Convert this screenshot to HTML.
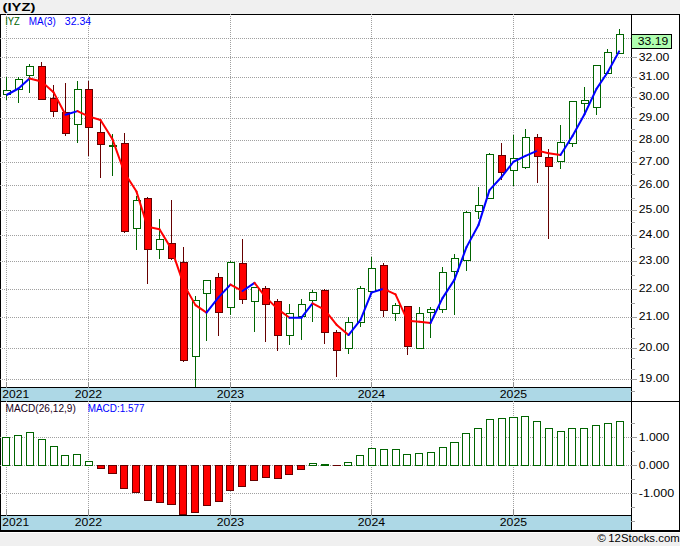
<!DOCTYPE html>
<html><head><meta charset="utf-8"><title>IYZ</title>
<style>html,body{margin:0;padding:0;background:#f0f0f0;}body{width:680px;height:546px;overflow:hidden;font-family:"Liberation Sans",sans-serif;}</style>
</head><body>
<svg width="680" height="546" viewBox="0 0 680 546" style="display:block" font-family="Liberation Sans, sans-serif">
<rect x="0" y="0" width="680" height="546" fill="#f0f0f0" />
<g shape-rendering="crispEdges" stroke-width="1">
<rect x="0" y="14" width="680" height="518" fill="#000" />
<rect x="1" y="15" width="678" height="515" fill="#fff" />
<rect x="0" y="532" width="680" height="1" fill="#fff" />
<line x1="0" y1="38.5" x2="631" y2="38.5" stroke="#a0a0a0" stroke-dasharray="1 1"/>
<line x1="0" y1="57.5" x2="631" y2="57.5" stroke="#a0a0a0" stroke-dasharray="1 1"/>
<line x1="0" y1="77.5" x2="631" y2="77.5" stroke="#a0a0a0" stroke-dasharray="1 1"/>
<line x1="0" y1="97.5" x2="631" y2="97.5" stroke="#a0a0a0" stroke-dasharray="1 1"/>
<line x1="0" y1="118.5" x2="631" y2="118.5" stroke="#a0a0a0" stroke-dasharray="1 1"/>
<line x1="0" y1="140.5" x2="631" y2="140.5" stroke="#a0a0a0" stroke-dasharray="1 1"/>
<line x1="0" y1="162.5" x2="631" y2="162.5" stroke="#a0a0a0" stroke-dasharray="1 1"/>
<line x1="0" y1="185.5" x2="631" y2="185.5" stroke="#a0a0a0" stroke-dasharray="1 1"/>
<line x1="0" y1="210.5" x2="631" y2="210.5" stroke="#a0a0a0" stroke-dasharray="1 1"/>
<line x1="0" y1="235.5" x2="631" y2="235.5" stroke="#a0a0a0" stroke-dasharray="1 1"/>
<line x1="0" y1="261.5" x2="631" y2="261.5" stroke="#a0a0a0" stroke-dasharray="1 1"/>
<line x1="0" y1="289.5" x2="631" y2="289.5" stroke="#a0a0a0" stroke-dasharray="1 1"/>
<line x1="0" y1="317.5" x2="631" y2="317.5" stroke="#a0a0a0" stroke-dasharray="1 1"/>
<line x1="0" y1="348.5" x2="631" y2="348.5" stroke="#a0a0a0" stroke-dasharray="1 1"/>
<line x1="0" y1="379.5" x2="631" y2="379.5" stroke="#a0a0a0" stroke-dasharray="1 1"/>
<line x1="0" y1="437.5" x2="631" y2="437.5" stroke="#a0a0a0" stroke-dasharray="1 1"/>
<line x1="0" y1="465.5" x2="631" y2="465.5" stroke="#a0a0a0" stroke-dasharray="1 1"/>
<line x1="0" y1="493.5" x2="631" y2="493.5" stroke="#a0a0a0" stroke-dasharray="1 1"/>
<line x1="6.5" y1="14" x2="6.5" y2="387" stroke="#a0a0a0" stroke-dasharray="1 1"/>
<line x1="6.5" y1="403" x2="6.5" y2="515" stroke="#a0a0a0" stroke-dasharray="1 1"/>
<line x1="88.5" y1="14" x2="88.5" y2="387" stroke="#a0a0a0" stroke-dasharray="1 1"/>
<line x1="88.5" y1="403" x2="88.5" y2="515" stroke="#a0a0a0" stroke-dasharray="1 1"/>
<line x1="230.5" y1="14" x2="230.5" y2="387" stroke="#a0a0a0" stroke-dasharray="1 1"/>
<line x1="230.5" y1="403" x2="230.5" y2="515" stroke="#a0a0a0" stroke-dasharray="1 1"/>
<line x1="371.5" y1="14" x2="371.5" y2="387" stroke="#a0a0a0" stroke-dasharray="1 1"/>
<line x1="371.5" y1="403" x2="371.5" y2="515" stroke="#a0a0a0" stroke-dasharray="1 1"/>
<line x1="513.5" y1="14" x2="513.5" y2="387" stroke="#a0a0a0" stroke-dasharray="1 1"/>
<line x1="513.5" y1="403" x2="513.5" y2="515" stroke="#a0a0a0" stroke-dasharray="1 1"/>
<rect x="1" y="387" width="631" height="15" fill="#000" />
<rect x="1" y="388" width="630" height="13" fill="#add8e6" />
<rect x="1" y="515" width="631" height="15" fill="#000" />
<rect x="1" y="516" width="630" height="14" fill="#add8e6" />
<line x1="0" y1="401.5" x2="680" y2="401.5" stroke="#000"/>
<line x1="6.5" y1="382" x2="6.5" y2="388" stroke="#909090"/>
<line x1="6.5" y1="509" x2="6.5" y2="516" stroke="#909090"/>
<rect x="6" y="401" width="1" height="1" fill="#a0a0a0" />
<line x1="88.5" y1="382" x2="88.5" y2="388" stroke="#909090"/>
<line x1="88.5" y1="509" x2="88.5" y2="516" stroke="#909090"/>
<rect x="88" y="401" width="1" height="1" fill="#a0a0a0" />
<line x1="230.5" y1="382" x2="230.5" y2="388" stroke="#909090"/>
<line x1="230.5" y1="509" x2="230.5" y2="516" stroke="#909090"/>
<rect x="230" y="401" width="1" height="1" fill="#a0a0a0" />
<line x1="371.5" y1="382" x2="371.5" y2="388" stroke="#909090"/>
<line x1="371.5" y1="509" x2="371.5" y2="516" stroke="#909090"/>
<rect x="371" y="401" width="1" height="1" fill="#a0a0a0" />
<line x1="513.5" y1="382" x2="513.5" y2="388" stroke="#909090"/>
<line x1="513.5" y1="509" x2="513.5" y2="516" stroke="#909090"/>
<rect x="513" y="401" width="1" height="1" fill="#a0a0a0" />
<line x1="631.5" y1="14" x2="631.5" y2="530" stroke="#000"/>
<line x1="631" y1="57.5" x2="637" y2="57.5" stroke="#a0a0a0"/>
<line x1="631" y1="77.5" x2="637" y2="77.5" stroke="#a0a0a0"/>
<line x1="631" y1="97.5" x2="637" y2="97.5" stroke="#a0a0a0"/>
<line x1="631" y1="118.5" x2="637" y2="118.5" stroke="#a0a0a0"/>
<line x1="631" y1="140.5" x2="637" y2="140.5" stroke="#a0a0a0"/>
<line x1="631" y1="162.5" x2="637" y2="162.5" stroke="#a0a0a0"/>
<line x1="631" y1="185.5" x2="637" y2="185.5" stroke="#a0a0a0"/>
<line x1="631" y1="210.5" x2="637" y2="210.5" stroke="#a0a0a0"/>
<line x1="631" y1="235.5" x2="637" y2="235.5" stroke="#a0a0a0"/>
<line x1="631" y1="261.5" x2="637" y2="261.5" stroke="#a0a0a0"/>
<line x1="631" y1="289.5" x2="637" y2="289.5" stroke="#a0a0a0"/>
<line x1="631" y1="317.5" x2="637" y2="317.5" stroke="#a0a0a0"/>
<line x1="631" y1="348.5" x2="637" y2="348.5" stroke="#a0a0a0"/>
<line x1="631" y1="379.5" x2="637" y2="379.5" stroke="#a0a0a0"/>
<line x1="631" y1="87.5" x2="635" y2="87.5" stroke="#a0a0a0"/>
<line x1="631" y1="107.5" x2="635" y2="107.5" stroke="#a0a0a0"/>
<line x1="631" y1="129.5" x2="635" y2="129.5" stroke="#a0a0a0"/>
<line x1="631" y1="151.5" x2="635" y2="151.5" stroke="#a0a0a0"/>
<line x1="631" y1="174.5" x2="635" y2="174.5" stroke="#a0a0a0"/>
<line x1="631" y1="198.5" x2="635" y2="198.5" stroke="#a0a0a0"/>
<line x1="631" y1="222.5" x2="635" y2="222.5" stroke="#a0a0a0"/>
<line x1="631" y1="248.5" x2="635" y2="248.5" stroke="#a0a0a0"/>
<line x1="631" y1="275.5" x2="635" y2="275.5" stroke="#a0a0a0"/>
<line x1="631" y1="303.5" x2="635" y2="303.5" stroke="#a0a0a0"/>
<line x1="631" y1="328.5" x2="635" y2="328.5" stroke="#a0a0a0"/>
<line x1="631" y1="338.5" x2="635" y2="338.5" stroke="#a0a0a0"/>
<line x1="631" y1="358.5" x2="635" y2="358.5" stroke="#a0a0a0"/>
<line x1="631" y1="369.5" x2="635" y2="369.5" stroke="#a0a0a0"/>
<line x1="631" y1="391.5" x2="635" y2="391.5" stroke="#a0a0a0"/>
<line x1="631" y1="437.5" x2="637" y2="437.5" stroke="#a0a0a0"/>
<line x1="631" y1="465.5" x2="637" y2="465.5" stroke="#a0a0a0"/>
<line x1="631" y1="493.5" x2="637" y2="493.5" stroke="#a0a0a0"/>
<line x1="631" y1="423.5" x2="635" y2="423.5" stroke="#a0a0a0"/>
<line x1="631" y1="451.5" x2="635" y2="451.5" stroke="#a0a0a0"/>
<line x1="631" y1="479.5" x2="635" y2="479.5" stroke="#a0a0a0"/>
<line x1="631" y1="507.5" x2="635" y2="507.5" stroke="#a0a0a0"/>
<line x1="631" y1="521.5" x2="635" y2="521.5" stroke="#a0a0a0"/>
<rect x="631" y="34" width="41" height="15" fill="#000" />
<rect x="632" y="35" width="39" height="13" fill="#b0ffb0" />
<line x1="6.5" y1="77" x2="6.5" y2="100" stroke="#006400"/>
<rect x="3" y="90" width="8" height="5" fill="#006400" />
<rect x="4" y="91" width="6" height="3" fill="#fff" />
<line x1="18.5" y1="77" x2="18.5" y2="103" stroke="#006400"/>
<rect x="15" y="79" width="8" height="11" fill="#006400" />
<rect x="16" y="80" width="6" height="9" fill="#fff" />
<line x1="29.5" y1="64" x2="29.5" y2="93" stroke="#006400"/>
<rect x="26" y="66" width="8" height="10" fill="#006400" />
<rect x="27" y="67" width="6" height="8" fill="#fff" />
<line x1="41.5" y1="62" x2="41.5" y2="100" stroke="#660000"/>
<rect x="38" y="66" width="8" height="34" fill="#660000" />
<rect x="39" y="67" width="6" height="32" fill="#ff0000" />
<line x1="53.5" y1="85" x2="53.5" y2="117" stroke="#660000"/>
<rect x="50" y="98" width="8" height="14" fill="#660000" />
<rect x="51" y="99" width="6" height="12" fill="#ff0000" />
<line x1="65.5" y1="83" x2="65.5" y2="136" stroke="#660000"/>
<rect x="62" y="112" width="8" height="22" fill="#660000" />
<rect x="63" y="113" width="6" height="20" fill="#ff0000" />
<line x1="77.5" y1="81" x2="77.5" y2="143" stroke="#006400"/>
<rect x="74" y="89" width="8" height="36" fill="#006400" />
<rect x="75" y="90" width="6" height="34" fill="#fff" />
<line x1="88.5" y1="81" x2="88.5" y2="156" stroke="#660000"/>
<rect x="85" y="89" width="8" height="39" fill="#660000" />
<rect x="86" y="90" width="6" height="37" fill="#ff0000" />
<line x1="100.5" y1="119" x2="100.5" y2="178" stroke="#660000"/>
<rect x="97" y="132" width="8" height="13" fill="#660000" />
<rect x="98" y="133" width="6" height="11" fill="#ff0000" />
<line x1="112.5" y1="134" x2="112.5" y2="176" stroke="#006400"/>
<rect x="109" y="145" width="8" height="2" fill="#006400" />
<line x1="124.5" y1="133" x2="124.5" y2="233" stroke="#660000"/>
<rect x="121" y="143" width="8" height="89" fill="#660000" />
<rect x="122" y="144" width="6" height="87" fill="#ff0000" />
<line x1="136.5" y1="196" x2="136.5" y2="250" stroke="#006400"/>
<rect x="133" y="200" width="8" height="29" fill="#006400" />
<rect x="134" y="201" width="6" height="27" fill="#fff" />
<line x1="147.5" y1="197" x2="147.5" y2="284" stroke="#660000"/>
<rect x="144" y="198" width="8" height="52" fill="#660000" />
<rect x="145" y="199" width="6" height="50" fill="#ff0000" />
<line x1="159.5" y1="219" x2="159.5" y2="259" stroke="#006400"/>
<rect x="156" y="239" width="8" height="11" fill="#006400" />
<rect x="157" y="240" width="6" height="9" fill="#fff" />
<line x1="171.5" y1="200" x2="171.5" y2="260" stroke="#660000"/>
<rect x="168" y="243" width="8" height="16" fill="#660000" />
<rect x="169" y="244" width="6" height="14" fill="#ff0000" />
<line x1="183.5" y1="247" x2="183.5" y2="362" stroke="#660000"/>
<rect x="180" y="262" width="8" height="99" fill="#660000" />
<rect x="181" y="263" width="6" height="97" fill="#ff0000" />
<line x1="195.5" y1="296" x2="195.5" y2="387" stroke="#006400"/>
<rect x="192" y="300" width="8" height="57" fill="#006400" />
<rect x="193" y="301" width="6" height="55" fill="#fff" />
<line x1="206.5" y1="280" x2="206.5" y2="341" stroke="#006400"/>
<rect x="203" y="280" width="8" height="14" fill="#006400" />
<rect x="204" y="281" width="6" height="12" fill="#fff" />
<line x1="218.5" y1="273" x2="218.5" y2="336" stroke="#660000"/>
<rect x="215" y="277" width="8" height="36" fill="#660000" />
<rect x="216" y="278" width="6" height="34" fill="#ff0000" />
<line x1="230.5" y1="261" x2="230.5" y2="315" stroke="#006400"/>
<rect x="227" y="262" width="8" height="46" fill="#006400" />
<rect x="228" y="263" width="6" height="44" fill="#fff" />
<line x1="242.5" y1="239" x2="242.5" y2="304" stroke="#660000"/>
<rect x="239" y="263" width="8" height="37" fill="#660000" />
<rect x="240" y="264" width="6" height="35" fill="#ff0000" />
<line x1="254.5" y1="287" x2="254.5" y2="332" stroke="#006400"/>
<rect x="251" y="287" width="8" height="15" fill="#006400" />
<rect x="252" y="288" width="6" height="13" fill="#fff" />
<line x1="265.5" y1="286" x2="265.5" y2="342" stroke="#660000"/>
<rect x="262" y="288" width="8" height="17" fill="#660000" />
<rect x="263" y="289" width="6" height="15" fill="#ff0000" />
<line x1="277.5" y1="299" x2="277.5" y2="351" stroke="#660000"/>
<rect x="274" y="301" width="8" height="35" fill="#660000" />
<rect x="275" y="302" width="6" height="33" fill="#ff0000" />
<line x1="289.5" y1="304" x2="289.5" y2="345" stroke="#006400"/>
<rect x="286" y="313" width="8" height="23" fill="#006400" />
<rect x="287" y="314" width="6" height="21" fill="#fff" />
<line x1="301.5" y1="299" x2="301.5" y2="340" stroke="#006400"/>
<rect x="298" y="304" width="8" height="13" fill="#006400" />
<rect x="299" y="305" width="6" height="11" fill="#fff" />
<line x1="312.5" y1="290" x2="312.5" y2="322" stroke="#006400"/>
<rect x="309" y="292" width="8" height="9" fill="#006400" />
<rect x="310" y="293" width="6" height="7" fill="#fff" />
<line x1="324.5" y1="289" x2="324.5" y2="344" stroke="#660000"/>
<rect x="321" y="290" width="8" height="43" fill="#660000" />
<rect x="322" y="291" width="6" height="41" fill="#ff0000" />
<line x1="336.5" y1="330" x2="336.5" y2="377" stroke="#660000"/>
<rect x="333" y="332" width="8" height="19" fill="#660000" />
<rect x="334" y="333" width="6" height="17" fill="#ff0000" />
<line x1="348.5" y1="317" x2="348.5" y2="354" stroke="#006400"/>
<rect x="345" y="322" width="8" height="27" fill="#006400" />
<rect x="346" y="323" width="6" height="25" fill="#fff" />
<line x1="360.5" y1="286" x2="360.5" y2="327" stroke="#006400"/>
<rect x="357" y="288" width="8" height="35" fill="#006400" />
<rect x="358" y="289" width="6" height="33" fill="#fff" />
<line x1="371.5" y1="257" x2="371.5" y2="292" stroke="#006400"/>
<rect x="368" y="268" width="8" height="24" fill="#006400" />
<rect x="369" y="269" width="6" height="22" fill="#fff" />
<line x1="383.5" y1="263" x2="383.5" y2="317" stroke="#660000"/>
<rect x="380" y="265" width="8" height="46" fill="#660000" />
<rect x="381" y="266" width="6" height="44" fill="#ff0000" />
<line x1="395.5" y1="303" x2="395.5" y2="321" stroke="#006400"/>
<rect x="392" y="305" width="8" height="9" fill="#006400" />
<rect x="393" y="306" width="6" height="7" fill="#fff" />
<line x1="407.5" y1="306" x2="407.5" y2="355" stroke="#660000"/>
<rect x="404" y="306" width="8" height="41" fill="#660000" />
<rect x="405" y="307" width="6" height="39" fill="#ff0000" />
<line x1="419.5" y1="307" x2="419.5" y2="349" stroke="#006400"/>
<rect x="416" y="313" width="8" height="36" fill="#006400" />
<rect x="417" y="314" width="6" height="34" fill="#fff" />
<line x1="430.5" y1="307" x2="430.5" y2="338" stroke="#006400"/>
<rect x="427" y="309" width="8" height="4" fill="#006400" />
<rect x="428" y="310" width="6" height="2" fill="#fff" />
<line x1="442.5" y1="267" x2="442.5" y2="313" stroke="#006400"/>
<rect x="439" y="272" width="8" height="38" fill="#006400" />
<rect x="440" y="273" width="6" height="36" fill="#fff" />
<line x1="454.5" y1="254" x2="454.5" y2="315" stroke="#006400"/>
<rect x="451" y="258" width="8" height="14" fill="#006400" />
<rect x="452" y="259" width="6" height="12" fill="#fff" />
<line x1="466.5" y1="211" x2="466.5" y2="271" stroke="#006400"/>
<rect x="463" y="212" width="8" height="49" fill="#006400" />
<rect x="464" y="213" width="6" height="47" fill="#fff" />
<line x1="478.5" y1="187" x2="478.5" y2="219" stroke="#006400"/>
<rect x="475" y="205" width="8" height="7" fill="#006400" />
<rect x="476" y="206" width="6" height="5" fill="#fff" />
<line x1="489.5" y1="153" x2="489.5" y2="199" stroke="#006400"/>
<rect x="486" y="154" width="8" height="45" fill="#006400" />
<rect x="487" y="155" width="6" height="43" fill="#fff" />
<line x1="501.5" y1="143" x2="501.5" y2="180" stroke="#660000"/>
<rect x="498" y="155" width="8" height="18" fill="#660000" />
<rect x="499" y="156" width="6" height="16" fill="#ff0000" />
<line x1="513.5" y1="135" x2="513.5" y2="186" stroke="#006400"/>
<rect x="510" y="158" width="8" height="13" fill="#006400" />
<rect x="511" y="159" width="6" height="11" fill="#fff" />
<line x1="525.5" y1="129" x2="525.5" y2="169" stroke="#006400"/>
<rect x="522" y="137" width="8" height="31" fill="#006400" />
<rect x="523" y="138" width="6" height="29" fill="#fff" />
<line x1="537.5" y1="134" x2="537.5" y2="183" stroke="#660000"/>
<rect x="534" y="137" width="8" height="20" fill="#660000" />
<rect x="535" y="138" width="6" height="18" fill="#ff0000" />
<line x1="548.5" y1="149" x2="548.5" y2="239" stroke="#660000"/>
<rect x="545" y="157" width="8" height="10" fill="#660000" />
<rect x="546" y="158" width="6" height="8" fill="#ff0000" />
<line x1="560.5" y1="125" x2="560.5" y2="169" stroke="#006400"/>
<rect x="557" y="142" width="8" height="20" fill="#006400" />
<rect x="558" y="143" width="6" height="18" fill="#fff" />
<line x1="572.5" y1="101" x2="572.5" y2="147" stroke="#006400"/>
<rect x="569" y="101" width="8" height="43" fill="#006400" />
<rect x="570" y="102" width="6" height="41" fill="#fff" />
<line x1="584.5" y1="87" x2="584.5" y2="114" stroke="#006400"/>
<rect x="581" y="100" width="8" height="4" fill="#006400" />
<rect x="582" y="101" width="6" height="2" fill="#fff" />
<line x1="596.5" y1="65" x2="596.5" y2="115" stroke="#006400"/>
<rect x="593" y="65" width="8" height="43" fill="#006400" />
<rect x="594" y="66" width="6" height="41" fill="#fff" />
<line x1="607.5" y1="49" x2="607.5" y2="74" stroke="#006400"/>
<rect x="604" y="52" width="8" height="22" fill="#006400" />
<rect x="605" y="53" width="6" height="20" fill="#fff" />
<line x1="619.5" y1="29" x2="619.5" y2="54" stroke="#006400"/>
<rect x="616" y="34" width="8" height="20" fill="#006400" />
<rect x="617" y="35" width="6" height="18" fill="#fff" />
<rect x="2" y="437" width="8" height="29" fill="#006400" />
<rect x="3" y="438" width="6" height="27" fill="#fff" />
<rect x="14" y="435" width="8" height="31" fill="#006400" />
<rect x="15" y="436" width="6" height="29" fill="#fff" />
<rect x="26" y="432" width="8" height="34" fill="#006400" />
<rect x="27" y="433" width="6" height="32" fill="#fff" />
<rect x="38" y="439" width="8" height="27" fill="#006400" />
<rect x="39" y="440" width="6" height="25" fill="#fff" />
<rect x="50" y="446" width="8" height="20" fill="#006400" />
<rect x="51" y="447" width="6" height="18" fill="#fff" />
<rect x="61" y="455" width="8" height="11" fill="#006400" />
<rect x="62" y="456" width="6" height="9" fill="#fff" />
<rect x="73" y="454" width="8" height="12" fill="#006400" />
<rect x="74" y="455" width="6" height="10" fill="#fff" />
<rect x="85" y="461" width="8" height="5" fill="#006400" />
<rect x="86" y="462" width="6" height="3" fill="#fff" />
<rect x="97" y="465" width="8" height="4" fill="#660000" />
<rect x="98" y="466" width="6" height="2" fill="#ff0000" />
<rect x="108" y="465" width="9" height="9" fill="#660000" />
<rect x="109" y="466" width="7" height="7" fill="#ff0000" />
<rect x="120" y="465" width="8" height="24" fill="#660000" />
<rect x="121" y="466" width="6" height="22" fill="#ff0000" />
<rect x="132" y="465" width="8" height="28" fill="#660000" />
<rect x="133" y="466" width="6" height="26" fill="#ff0000" />
<rect x="144" y="465" width="8" height="36" fill="#660000" />
<rect x="145" y="466" width="6" height="34" fill="#ff0000" />
<rect x="156" y="465" width="8" height="38" fill="#660000" />
<rect x="157" y="466" width="6" height="36" fill="#ff0000" />
<rect x="167" y="465" width="9" height="40" fill="#660000" />
<rect x="168" y="466" width="7" height="38" fill="#ff0000" />
<rect x="179" y="465" width="8" height="50" fill="#660000" />
<rect x="180" y="466" width="6" height="48" fill="#ff0000" />
<rect x="191" y="465" width="8" height="48" fill="#660000" />
<rect x="192" y="466" width="6" height="46" fill="#ff0000" />
<rect x="203" y="465" width="8" height="41" fill="#660000" />
<rect x="204" y="466" width="6" height="39" fill="#ff0000" />
<rect x="215" y="465" width="8" height="37" fill="#660000" />
<rect x="216" y="466" width="6" height="35" fill="#ff0000" />
<rect x="226" y="465" width="8" height="26" fill="#660000" />
<rect x="227" y="466" width="6" height="24" fill="#ff0000" />
<rect x="238" y="465" width="8" height="22" fill="#660000" />
<rect x="239" y="466" width="6" height="20" fill="#ff0000" />
<rect x="250" y="465" width="8" height="16" fill="#660000" />
<rect x="251" y="466" width="6" height="14" fill="#ff0000" />
<rect x="262" y="465" width="8" height="13" fill="#660000" />
<rect x="263" y="466" width="6" height="11" fill="#ff0000" />
<rect x="274" y="465" width="8" height="14" fill="#660000" />
<rect x="275" y="466" width="6" height="12" fill="#ff0000" />
<rect x="285" y="465" width="8" height="10" fill="#660000" />
<rect x="286" y="466" width="6" height="8" fill="#ff0000" />
<rect x="297" y="465" width="8" height="5" fill="#660000" />
<rect x="298" y="466" width="6" height="3" fill="#ff0000" />
<rect x="309" y="463" width="8" height="3" fill="#006400" />
<rect x="310" y="464" width="6" height="1" fill="#fff" />
<rect x="321" y="464" width="8" height="2" fill="#006400" />
<rect x="333" y="465" width="8" height="1" fill="#660000" />
<rect x="344" y="462" width="8" height="4" fill="#006400" />
<rect x="345" y="463" width="6" height="2" fill="#fff" />
<rect x="356" y="455" width="8" height="11" fill="#006400" />
<rect x="357" y="456" width="6" height="9" fill="#fff" />
<rect x="368" y="448" width="8" height="18" fill="#006400" />
<rect x="369" y="449" width="6" height="16" fill="#fff" />
<rect x="380" y="449" width="8" height="17" fill="#006400" />
<rect x="381" y="450" width="6" height="15" fill="#fff" />
<rect x="392" y="449" width="8" height="17" fill="#006400" />
<rect x="393" y="450" width="6" height="15" fill="#fff" />
<rect x="403" y="454" width="8" height="12" fill="#006400" />
<rect x="404" y="455" width="6" height="10" fill="#fff" />
<rect x="415" y="453" width="8" height="13" fill="#006400" />
<rect x="416" y="454" width="6" height="11" fill="#fff" />
<rect x="427" y="452" width="8" height="14" fill="#006400" />
<rect x="428" y="453" width="6" height="12" fill="#fff" />
<rect x="439" y="447" width="8" height="19" fill="#006400" />
<rect x="440" y="448" width="6" height="17" fill="#fff" />
<rect x="450" y="442" width="9" height="24" fill="#006400" />
<rect x="451" y="443" width="7" height="22" fill="#fff" />
<rect x="462" y="433" width="8" height="33" fill="#006400" />
<rect x="463" y="434" width="6" height="31" fill="#fff" />
<rect x="474" y="428" width="8" height="38" fill="#006400" />
<rect x="475" y="429" width="6" height="36" fill="#fff" />
<rect x="486" y="419" width="8" height="47" fill="#006400" />
<rect x="487" y="420" width="6" height="45" fill="#fff" />
<rect x="498" y="418" width="8" height="48" fill="#006400" />
<rect x="499" y="419" width="6" height="46" fill="#fff" />
<rect x="509" y="417" width="9" height="49" fill="#006400" />
<rect x="510" y="418" width="7" height="47" fill="#fff" />
<rect x="521" y="416" width="8" height="50" fill="#006400" />
<rect x="522" y="417" width="6" height="48" fill="#fff" />
<rect x="533" y="421" width="8" height="45" fill="#006400" />
<rect x="534" y="422" width="6" height="43" fill="#fff" />
<rect x="545" y="428" width="8" height="38" fill="#006400" />
<rect x="546" y="429" width="6" height="36" fill="#fff" />
<rect x="557" y="431" width="8" height="35" fill="#006400" />
<rect x="558" y="432" width="6" height="33" fill="#fff" />
<rect x="568" y="428" width="8" height="38" fill="#006400" />
<rect x="569" y="429" width="6" height="36" fill="#fff" />
<rect x="580" y="428" width="8" height="38" fill="#006400" />
<rect x="581" y="429" width="6" height="36" fill="#fff" />
<rect x="592" y="425" width="8" height="41" fill="#006400" />
<rect x="593" y="426" width="6" height="39" fill="#fff" />
<rect x="604" y="423" width="8" height="43" fill="#006400" />
<rect x="605" y="424" width="6" height="41" fill="#fff" />
<rect x="616" y="421" width="8" height="45" fill="#006400" />
<rect x="617" y="422" width="6" height="43" fill="#fff" />
</g>
<line x1="6.5" y1="95" x2="18.5" y2="88.5" stroke="#0000ff" stroke-width="2" stroke-linecap="butt"/>
<circle cx="18.5" cy="88.5" r="1" fill="#0000ff"/>
<line x1="18.5" y1="88.5" x2="29.5" y2="78.42" stroke="#0000ff" stroke-width="2" stroke-linecap="round"/>
<line x1="29.5" y1="78.42" x2="41.5" y2="81.58" stroke="#ff0000" stroke-width="2" stroke-linecap="round"/>
<line x1="41.5" y1="81.58" x2="53.5" y2="92.13" stroke="#ff0000" stroke-width="2" stroke-linecap="round"/>
<line x1="53.5" y1="92.13" x2="65.5" y2="114.81" stroke="#ff0000" stroke-width="2" stroke-linecap="round"/>
<line x1="65.5" y1="114.81" x2="77.5" y2="111.13" stroke="#0000ff" stroke-width="2" stroke-linecap="round"/>
<line x1="77.5" y1="111.13" x2="88.5" y2="116.41" stroke="#ff0000" stroke-width="2" stroke-linecap="round"/>
<line x1="88.5" y1="116.41" x2="100.5" y2="119.93" stroke="#ff0000" stroke-width="2" stroke-linecap="round"/>
<line x1="100.5" y1="119.93" x2="112.5" y2="139.31" stroke="#ff0000" stroke-width="2" stroke-linecap="round"/>
<line x1="112.5" y1="139.31" x2="124.5" y2="172.78" stroke="#ff0000" stroke-width="2" stroke-linecap="round"/>
<line x1="124.5" y1="172.78" x2="136.5" y2="191.58" stroke="#ff0000" stroke-width="2" stroke-linecap="round"/>
<line x1="136.5" y1="191.58" x2="147.5" y2="226.8" stroke="#ff0000" stroke-width="2" stroke-linecap="round"/>
<line x1="147.5" y1="226.8" x2="159.5" y2="229.3" stroke="#ff0000" stroke-width="2" stroke-linecap="round"/>
<line x1="159.5" y1="229.3" x2="171.5" y2="249.12" stroke="#ff0000" stroke-width="2" stroke-linecap="round"/>
<line x1="171.5" y1="249.12" x2="183.5" y2="283.92" stroke="#ff0000" stroke-width="2" stroke-linecap="round"/>
<line x1="183.5" y1="283.92" x2="195.5" y2="305.13" stroke="#ff0000" stroke-width="2" stroke-linecap="round"/>
<line x1="195.5" y1="305.13" x2="206.5" y2="312.69" stroke="#ff0000" stroke-width="2" stroke-linecap="round"/>
<line x1="206.5" y1="312.69" x2="218.5" y2="297.42" stroke="#0000ff" stroke-width="2" stroke-linecap="round"/>
<line x1="218.5" y1="297.42" x2="230.5" y2="284.59" stroke="#0000ff" stroke-width="2" stroke-linecap="round"/>
<line x1="230.5" y1="284.59" x2="242.5" y2="291.03" stroke="#ff0000" stroke-width="2" stroke-linecap="round"/>
<line x1="242.5" y1="291.03" x2="254.5" y2="282.87" stroke="#0000ff" stroke-width="2" stroke-linecap="round"/>
<line x1="254.5" y1="282.87" x2="265.5" y2="297.06" stroke="#ff0000" stroke-width="2" stroke-linecap="round"/>
<line x1="265.5" y1="297.06" x2="277.5" y2="308.88" stroke="#ff0000" stroke-width="2" stroke-linecap="round"/>
<line x1="277.5" y1="308.88" x2="289.5" y2="317.73" stroke="#ff0000" stroke-width="2" stroke-linecap="round"/>
<line x1="289.5" y1="317.73" x2="301.5" y2="317.73" stroke="#0000ff" stroke-width="2" stroke-linecap="round"/>
<line x1="301.5" y1="317.73" x2="312.5" y2="303.34" stroke="#0000ff" stroke-width="2" stroke-linecap="round"/>
<line x1="312.5" y1="303.34" x2="324.5" y2="309.54" stroke="#ff0000" stroke-width="2" stroke-linecap="round"/>
<line x1="324.5" y1="309.54" x2="336.5" y2="324.65" stroke="#ff0000" stroke-width="2" stroke-linecap="round"/>
<line x1="336.5" y1="324.65" x2="348.5" y2="335.06" stroke="#ff0000" stroke-width="2" stroke-linecap="round"/>
<line x1="348.5" y1="335.06" x2="360.5" y2="319.94" stroke="#0000ff" stroke-width="2" stroke-linecap="round"/>
<line x1="360.5" y1="319.94" x2="371.5" y2="292.6" stroke="#0000ff" stroke-width="2" stroke-linecap="round"/>
<line x1="371.5" y1="292.6" x2="383.5" y2="288.79" stroke="#0000ff" stroke-width="2" stroke-linecap="round"/>
<line x1="383.5" y1="288.79" x2="395.5" y2="294.41" stroke="#ff0000" stroke-width="2" stroke-linecap="round"/>
<line x1="395.5" y1="294.41" x2="407.5" y2="320.63" stroke="#ff0000" stroke-width="2" stroke-linecap="round"/>
<line x1="407.5" y1="320.63" x2="419.5" y2="321.64" stroke="#ff0000" stroke-width="2" stroke-linecap="round"/>
<line x1="419.5" y1="321.64" x2="430.5" y2="323.01" stroke="#ff0000" stroke-width="2" stroke-linecap="round"/>
<line x1="430.5" y1="323.01" x2="442.5" y2="298.09" stroke="#0000ff" stroke-width="2" stroke-linecap="round"/>
<line x1="442.5" y1="298.09" x2="454.5" y2="279.63" stroke="#0000ff" stroke-width="2" stroke-linecap="round"/>
<line x1="454.5" y1="279.63" x2="466.5" y2="247.13" stroke="#0000ff" stroke-width="2" stroke-linecap="round"/>
<line x1="466.5" y1="247.13" x2="478.5" y2="224.92" stroke="#0000ff" stroke-width="2" stroke-linecap="round"/>
<line x1="478.5" y1="224.92" x2="489.5" y2="190.16" stroke="#0000ff" stroke-width="2" stroke-linecap="round"/>
<line x1="489.5" y1="190.16" x2="501.5" y2="177.04" stroke="#0000ff" stroke-width="2" stroke-linecap="round"/>
<line x1="501.5" y1="177.04" x2="513.5" y2="161.75" stroke="#0000ff" stroke-width="2" stroke-linecap="round"/>
<line x1="513.5" y1="161.75" x2="525.5" y2="155.9" stroke="#0000ff" stroke-width="2" stroke-linecap="round"/>
<line x1="525.5" y1="155.9" x2="537.5" y2="150.63" stroke="#0000ff" stroke-width="2" stroke-linecap="round"/>
<line x1="537.5" y1="150.63" x2="548.5" y2="153.25" stroke="#ff0000" stroke-width="2" stroke-linecap="round"/>
<line x1="548.5" y1="153.25" x2="560.5" y2="154.95" stroke="#ff0000" stroke-width="2" stroke-linecap="round"/>
<line x1="560.5" y1="154.95" x2="572.5" y2="136.08" stroke="#0000ff" stroke-width="2" stroke-linecap="round"/>
<line x1="572.5" y1="136.08" x2="584.5" y2="114.29" stroke="#0000ff" stroke-width="2" stroke-linecap="round"/>
<line x1="584.5" y1="114.29" x2="596.5" y2="88.84" stroke="#0000ff" stroke-width="2" stroke-linecap="round"/>
<line x1="596.5" y1="88.84" x2="607.5" y2="72.44" stroke="#0000ff" stroke-width="2" stroke-linecap="round"/>
<line x1="607.5" y1="72.44" x2="619.5" y2="50.63" stroke="#0000ff" stroke-width="2" stroke-linecap="butt"/>
<circle cx="607.5" cy="72.44" r="1" fill="#0000ff"/>
<text x="2.6" y="10.8" font-size="11.6" fill="#000" font-weight="bold" text-anchor="start" textLength="32.8" lengthAdjust="spacingAndGlyphs">(IYZ)</text>
<text x="5.2" y="25.3" font-size="10.1" fill="#006400" font-weight="normal" text-anchor="start" textLength="14.6" lengthAdjust="spacingAndGlyphs">IYZ</text>
<text x="28.8" y="25.3" font-size="10.1" fill="#0000ff" font-weight="normal" text-anchor="start" textLength="27.0" lengthAdjust="spacingAndGlyphs">MA(3)</text>
<text x="64.8" y="25.3" font-size="10.1" fill="#0000ff" font-weight="normal" text-anchor="start" textLength="26.4" lengthAdjust="spacingAndGlyphs">32.34</text>
<text x="5.6" y="412.4" font-size="10.3" fill="#200020" font-weight="normal" text-anchor="start" textLength="70.2" lengthAdjust="spacingAndGlyphs">MACD(26,12,9)</text>
<text x="87.7" y="412.4" font-size="10.3" fill="#0000ff" font-weight="normal" text-anchor="start" textLength="56.9" lengthAdjust="spacingAndGlyphs">MACD:1.577</text>
<text x="638.8" y="61" font-size="10.8" fill="#000" font-weight="normal" text-anchor="start" textLength="30.6" lengthAdjust="spacingAndGlyphs">32.00</text>
<text x="638.8" y="80" font-size="10.8" fill="#000" font-weight="normal" text-anchor="start" textLength="30.6" lengthAdjust="spacingAndGlyphs">31.00</text>
<text x="638.8" y="100" font-size="10.8" fill="#000" font-weight="normal" text-anchor="start" textLength="30.6" lengthAdjust="spacingAndGlyphs">30.00</text>
<text x="638.8" y="121" font-size="10.8" fill="#000" font-weight="normal" text-anchor="start" textLength="30.6" lengthAdjust="spacingAndGlyphs">29.00</text>
<text x="638.8" y="143" font-size="10.8" fill="#000" font-weight="normal" text-anchor="start" textLength="30.6" lengthAdjust="spacingAndGlyphs">28.00</text>
<text x="638.8" y="165" font-size="10.8" fill="#000" font-weight="normal" text-anchor="start" textLength="30.6" lengthAdjust="spacingAndGlyphs">27.00</text>
<text x="638.8" y="188" font-size="10.8" fill="#000" font-weight="normal" text-anchor="start" textLength="30.6" lengthAdjust="spacingAndGlyphs">26.00</text>
<text x="638.8" y="213" font-size="10.8" fill="#000" font-weight="normal" text-anchor="start" textLength="30.6" lengthAdjust="spacingAndGlyphs">25.00</text>
<text x="638.8" y="238" font-size="10.8" fill="#000" font-weight="normal" text-anchor="start" textLength="30.6" lengthAdjust="spacingAndGlyphs">24.00</text>
<text x="638.8" y="264" font-size="10.8" fill="#000" font-weight="normal" text-anchor="start" textLength="30.6" lengthAdjust="spacingAndGlyphs">23.00</text>
<text x="638.8" y="292" font-size="10.8" fill="#000" font-weight="normal" text-anchor="start" textLength="30.6" lengthAdjust="spacingAndGlyphs">22.00</text>
<text x="638.8" y="320" font-size="10.8" fill="#000" font-weight="normal" text-anchor="start" textLength="30.6" lengthAdjust="spacingAndGlyphs">21.00</text>
<text x="638.8" y="351" font-size="10.8" fill="#000" font-weight="normal" text-anchor="start" textLength="30.6" lengthAdjust="spacingAndGlyphs">20.00</text>
<text x="638.8" y="382" font-size="10.8" fill="#000" font-weight="normal" text-anchor="start" textLength="30.6" lengthAdjust="spacingAndGlyphs">19.00</text>
<text x="637.8" y="45" font-size="10.8" fill="#000" font-weight="normal" text-anchor="start" textLength="30.4" lengthAdjust="spacingAndGlyphs">33.19</text>
<text x="638.8" y="441" font-size="10.8" fill="#000" font-weight="normal" text-anchor="start" textLength="30.6" lengthAdjust="spacingAndGlyphs">1.000</text>
<text x="638.8" y="469" font-size="10.8" fill="#000" font-weight="normal" text-anchor="start" textLength="30.6" lengthAdjust="spacingAndGlyphs">0.000</text>
<text x="638.8" y="497" font-size="10.8" fill="#000" font-weight="normal" text-anchor="start" textLength="35.4" lengthAdjust="spacingAndGlyphs">-1.000</text>
<text x="2.3" y="398" font-size="10.8" fill="#000" font-weight="normal" text-anchor="start" textLength="26.8" lengthAdjust="spacingAndGlyphs">2021</text>
<text x="74.8" y="398" font-size="10.8" fill="#000" font-weight="normal" text-anchor="start" textLength="27.3" lengthAdjust="spacingAndGlyphs">2022</text>
<text x="216.8" y="398" font-size="10.8" fill="#000" font-weight="normal" text-anchor="start" textLength="27.3" lengthAdjust="spacingAndGlyphs">2023</text>
<text x="357.8" y="398" font-size="10.8" fill="#000" font-weight="normal" text-anchor="start" textLength="27.3" lengthAdjust="spacingAndGlyphs">2024</text>
<text x="499.8" y="398" font-size="10.8" fill="#000" font-weight="normal" text-anchor="start" textLength="27.3" lengthAdjust="spacingAndGlyphs">2025</text>
<text x="2.3" y="526" font-size="10.8" fill="#000" font-weight="normal" text-anchor="start" textLength="26.8" lengthAdjust="spacingAndGlyphs">2021</text>
<text x="74.8" y="526" font-size="10.8" fill="#000" font-weight="normal" text-anchor="start" textLength="27.3" lengthAdjust="spacingAndGlyphs">2022</text>
<text x="216.8" y="526" font-size="10.8" fill="#000" font-weight="normal" text-anchor="start" textLength="27.3" lengthAdjust="spacingAndGlyphs">2023</text>
<text x="357.8" y="526" font-size="10.8" fill="#000" font-weight="normal" text-anchor="start" textLength="27.3" lengthAdjust="spacingAndGlyphs">2024</text>
<text x="499.8" y="526" font-size="10.8" fill="#000" font-weight="normal" text-anchor="start" textLength="27.3" lengthAdjust="spacingAndGlyphs">2025</text>
<text x="597.3" y="542" font-size="11.7" fill="#000" font-weight="normal" text-anchor="start">©</text>
<text x="608.3" y="542" font-size="11.7" fill="#000" font-weight="normal" text-anchor="start" textLength="71.4" lengthAdjust="spacingAndGlyphs">12Stocks.com</text>
</svg>
</body></html>
